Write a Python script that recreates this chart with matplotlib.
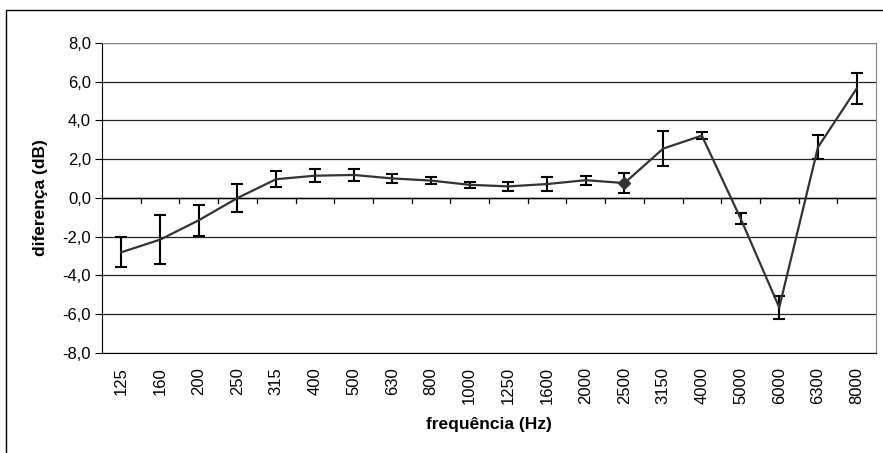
import matplotlib
matplotlib.use('Agg')
import matplotlib.pyplot as plt
from matplotlib.patches import Rectangle

plt.rcParams['font.family'] = ['Liberation Sans', 'DejaVu Sans']

# Data
freqs = ['125', '160', '200', '250', '315', '400', '500', '630', '800', '1000',
         '1250', '1600', '2000', '2500', '3150', '4000', '5000', '6000', '6300', '8000']
diff = [-2.8, -2.15, -1.15, 0.0, 0.97, 1.15, 1.19, 1.01, 0.9, 0.68,
        0.6, 0.72, 0.92, 0.77, 2.55, 3.22, -1.05, -5.65, 2.62, 5.65]
err = [0.78, 1.28, 0.8, 0.7, 0.4, 0.35, 0.33, 0.24, 0.2, 0.15,
       0.25, 0.37, 0.24, 0.52, 0.92, 0.2, 0.3, 0.58, 0.62, 0.8]

W, H = 883, 453
fig = plt.figure(figsize=(W / 100, H / 100), dpi=100)
ax = fig.add_axes([102 / W, 1 - 353 / H, (876 - 102) / W, (353 - 43) / H])

# outer chart border
fig.patches.append(Rectangle((6 / W, -0.05), 1.1, 1 - 10 / H + 0.05,
                             transform=fig.transFigure, fill=False,
                             edgecolor='black', linewidth=1.0))

x = list(range(len(freqs)))
ax.errorbar(x, diff, yerr=err, fmt='none', ecolor='black', elinewidth=1.5,
            capsize=4, capthick=1.5, zorder=3)
ax.plot(x, diff, color='#333333', linewidth=1.6, zorder=4)
ax.plot(x[13], diff[13], marker='D', color='#333333', markersize=6, zorder=5)

ax.set_xlim(-0.5, len(freqs) - 0.5)
ax.set_ylim(-8, 8)
yt = [-8, -6, -4, -2, 0, 2, 4, 6, 8]
ax.set_yticks(yt)
ax.set_yticklabels([f'{v:.1f}'.replace('.', ',') for v in yt], fontsize=12)
ax.yaxis.grid(True, color='#222222', linewidth=0.9)
ax.set_axisbelow(True)
ax.tick_params(axis='y', length=5, width=0.8, direction='out', pad=3)

# category labels at bottom, tick marks on the zero line
ax.set_xticks(x)
ax.set_xticklabels(freqs, rotation=90, fontsize=12)
ax.tick_params(axis='x', length=0, pad=10)
for b in range(1, len(freqs)):
    ax.plot([b - 0.5, b - 0.5], [0, -0.25], color='black', linewidth=0.9, zorder=2)
ax.axhline(0, color='black', linewidth=1.0, zorder=2)

for side in ['top', 'right']:
    ax.spines[side].set_color('#888888')
ax.spines['left'].set_color('black')
ax.spines['bottom'].set_color('black')

fig.text(489 / W, 1 - 424 / H, 'frequência (Hz)', fontsize=12.5, fontweight='bold',
         ha='center', va='center')
fig.text(40 / W, 1 - 198 / H, 'diferença (dB)', fontsize=12.5, fontweight='bold',
         ha='center', va='center', rotation=90)

fig.savefig('out.png', dpi=100)
